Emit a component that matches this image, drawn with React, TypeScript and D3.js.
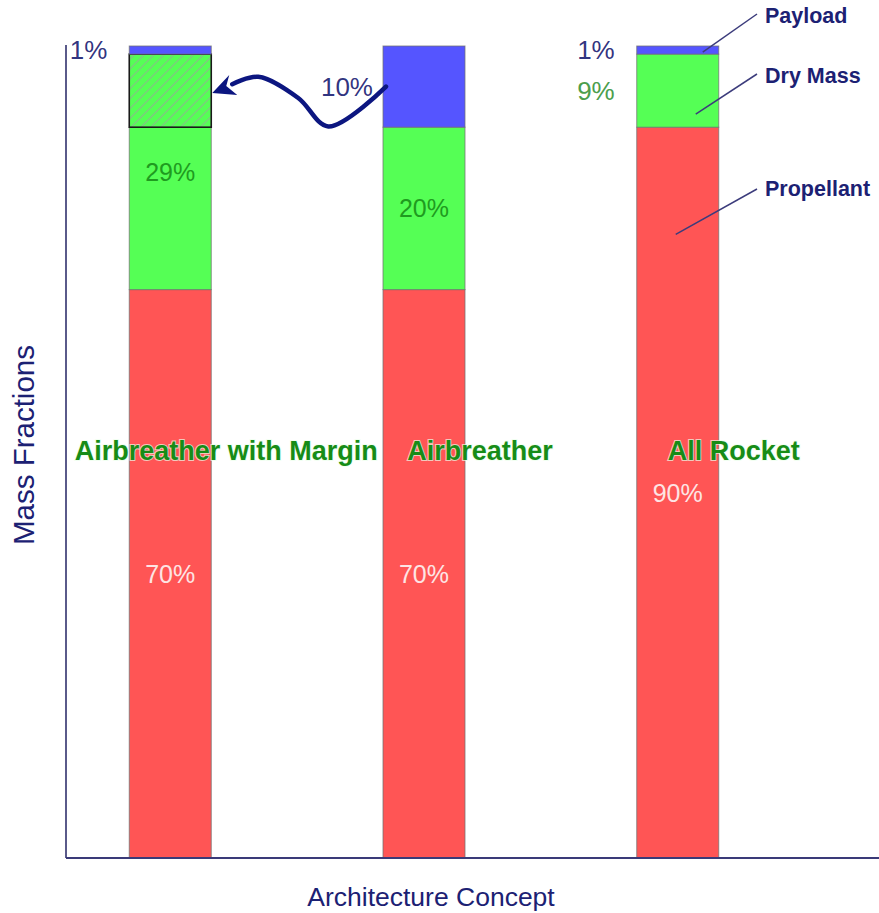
import React from "react";
import * as d3 from "d3";

const categories = ["Airbreather with Margin", "Airbreather", "All Rocket"];
const propellant = [70, 70, 90];
const dryMass = [20, 20, 9];
const dryMargin = [9, 0, 0];
const payload = [1, 10, 1];
const dryLabels = ["29%", "20%", "9%"];
const propLabels = ["70%", "70%", "90%"];
const payloadLabels = ["1%", "10%", "1%"];
const legendNames = ["Payload", "Dry Mass", "Propellant"];

const W = 879;
const H = 913;
const NAVY = "#1c2173";
const RED = "#ff5555";
const GREEN = "#55ff55";
const BLUE = "#5555ff";

export default function App() {
  const y = d3.scaleLinear().domain([0, 100]).range([858, 46]);
  const x = d3.scaleBand<string>().domain(categories).range([43, 805]).paddingInner(0.677).paddingOuter(0.34);
  const bw = 82;
  const cx = (i: number) => (x(categories[i]) as number) + x.bandwidth() / 2;
  const left = (i: number) => cx(i) - bw / 2;

  const segs: { i: number; y0: number; y1: number; fill: string; hatch?: boolean }[] = [];
  categories.forEach((_, i) => {
    let acc = 0;
    const add = (v: number, fill: string, hatch = false) => {
      if (v > 0) segs.push({ i, y0: acc, y1: acc + v, fill, hatch });
      acc += v;
    };
    add(propellant[i], RED);
    add(dryMass[i], GREEN);
    add(dryMargin[i], GREEN, true);
    add(payload[i], BLUE);
  });

  // arrow from bar 2 payload to bar 1 margin
  const arrowPts: [number, number][] = [
    [left(1) + 3, y(95)],
    [cx(0) + 158, y(90.1)],
    [cx(0) + 128, y(93.6)],
    [cx(0) + 88, y(96.2)],
    [cx(0) + 62, y(95.3)],
  ];
  const arrowLine = d3.line().curve(d3.curveCatmullRom.alpha(0.5))(arrowPts) || "";
  const tipX = cx(0) + bw / 2 + 1;
  const tipY = y(94.2);

  // legend leader lines anchor on bar 3
  const legendY = [19, 79, 188];
  const legendAnchor: [number, number][] = [
    [cx(2) + 25, y(99.25)],
    [cx(2) + 18, y(91.6)],
    [cx(2) - 2, y(76.8)],
  ];

  const font = "'Liberation Sans', Arial, Helvetica, sans-serif";

  return (
    <svg width={W} height={H} style={{ position: "absolute", left: 0, top: 0, background: "#fff" }} fontFamily={font}>
      <defs>
        <pattern id="hatch" width={7} height={7} patternUnits="userSpaceOnUse" patternTransform="rotate(45)">
          <rect width={7} height={7} fill={GREEN} />
          <line x1={0} y1={0} x2={0} y2={7} stroke="#86c086" strokeWidth={2.4} />
        </pattern>
      </defs>

      {/* bars */}
      {segs.map((s, k) => (
        <rect
          key={k}
          x={left(s.i)}
          y={y(s.y1)}
          width={bw}
          height={y(s.y0) - y(s.y1)}
          fill={s.hatch ? "url(#hatch)" : s.fill}
          stroke={s.hatch ? "#1a1a1a" : "#707070"}
          strokeOpacity={s.hatch ? 1 : 0.75}
          strokeWidth={s.hatch ? 1.6 : 1}
        />
      ))}

      {/* axes */}
      <line x1={66} y1={45} x2={66} y2={y(0)} stroke="#5a5a8a" strokeWidth={2} />
      <line x1={66} y1={y(0)} x2={W} y2={y(0)} stroke="#3a3a78" strokeWidth={2} />

      {/* inside labels */}
      {categories.map((_, i) => (
        <text
          key={"p" + i}
          x={cx(i)}
          y={y(propellant[i] / 2)}
          dy="0.36em"
          textAnchor="middle"
          fontSize={25}
          fill="#fde4e4"
        >
          {propLabels[i]}
        </text>
      ))}
      {[0, 1].map((i) => (
        <text
          key={"d" + i}
          x={cx(i)}
          y={y(propellant[i] + (dryMass[i] + dryMargin[i]) / 2)}
          dy="0.36em"
          textAnchor="middle"
          fontSize={25}
          fill="#1f9b1f"
        >
          {dryLabels[i]}
        </text>
      ))}
      <text x={left(2) - 22} y={y(propellant[2] + dryMass[2] / 2)} dy="0.36em" textAnchor="end" fontSize={26} fill="#4c9e4c">
        {dryLabels[2]}
      </text>

      {/* payload labels */}
      {categories.map((_, i) => (
        <text
          key={"pl" + i}
          x={left(i) - (i === 1 ? 10 : 22)}
          y={y(100 - payload[i] / 2)}
          dy="0.36em"
          textAnchor="end"
          fontSize={26}
          fill={NAVY}
          fillOpacity={0.92}
        >
          {payloadLabels[i]}
        </text>
      ))}

      {/* arrow */}
      <path d={arrowLine} fill="none" stroke="#0c1680" strokeWidth={4.5} strokeLinecap="round" />
      <path
        d={`M${tipX},${tipY} L${tipX + 17},${tipY - 18} L${tipX + 14},${tipY - 7} L${tipX + 25},${tipY + 2} Z`}
        fill="#0c1680"
      />

      {/* category labels */}
      {categories.map((c, i) => (
        <text
          key={"c" + i}
          x={cx(i) + 56}
          y={460}
          textAnchor="middle"
          fontSize={27}
          fontWeight="bold"
          fill="#178c17"
          stroke="rgba(235,255,235,0.7)"
          strokeWidth={2}
          paintOrder="stroke"
        >
          {c}
        </text>
      ))}

      {/* legend leaders */}
      {legendNames.map((n, i) => (
        <g key={n}>
          <line
            x1={legendAnchor[i][0]}
            y1={legendAnchor[i][1]}
            x2={757}
            y2={legendY[i] - 5 + (i === 2 ? 6 : 0)}
            stroke="#3c3c7c"
            strokeWidth={1.5}
          />
          <text x={765} y={legendY[i] + 4 + (i === 2 ? 4 : 0)} fontSize={21.5} fontWeight="bold" fill={NAVY}>
            {n}
          </text>
        </g>
      ))}

      {/* axis titles */}
      <text x={431} y={906} textAnchor="middle" fontSize={26.5} fill={NAVY}>
        Architecture Concept
      </text>
      <text transform={`translate(34,445) rotate(-90)`} textAnchor="middle" fontSize={29.5} fill={NAVY}>
        Mass Fractions
      </text>
    </svg>
  );
}
